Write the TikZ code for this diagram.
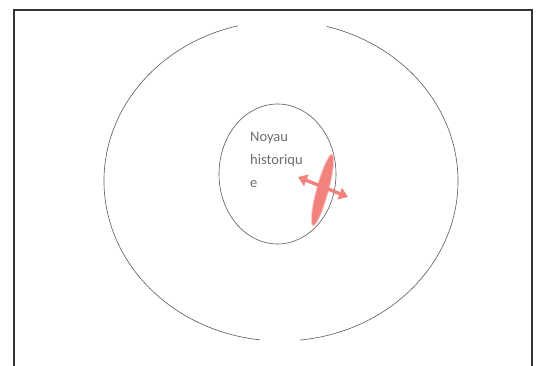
\documentclass[tikz,border=0pt]{standalone}
\usepackage{fontspec}
\setmainfont{Carlito}
\usetikzlibrary{arrows.meta,calc,shapes.geometric}
\definecolor{salmon}{RGB}{242,130,125}
\definecolor{ringgray}{RGB}{90,90,90}
\definecolor{textgray}{RGB}{110,110,110}
\begin{document}
\begin{tikzpicture}[x=1pt,y=1pt,
  ring/.style={draw=ringgray,line width=0.6pt},
  frameline/.style={draw=black!80,line width=1.3pt},
  label/.style={text=textgray,font=\fontsize{14.5}{23}\selectfont,align=left,inner sep=0pt},
  leaf/.style={fill=salmon,draw=salmon!40,line width=0.8pt},
  dblarrow/.style={draw=salmon,line width=3.4pt,{Triangle[length=9pt,width=12pt]}-{Triangle[length=9pt,width=12pt]}}
]
\useasboundingbox (0,0) rectangle (548,366);
\fill[white] (0,0) rectangle (548,366);
\begin{scope}
\clip (0,0) rectangle (548,366);
\draw[frameline] (14,-5) -- (14,356) -- (532,356) -- (532,-5);
\end{scope}
% outer ring with two gaps
\coordinate (oc) at (281,185);
\draw[ring] ($(oc)+(104:177 and 160)$) arc[start angle=104,end angle=263.2,x radius=177,y radius=160];
\draw[ring] ($(oc)+(276.2:177 and 160)$) arc[start angle=276.2,end angle=435,x radius=177,y radius=160];
% inner ring
\node[ring,ellipse,minimum width=117pt,minimum height=140pt,inner sep=0pt] (core) at (277.5,192) {};
\node[label,anchor=base west] (txt) at (250,178) {Noyau\\historiqu\\e};
% red symbol
\node[leaf,ellipse,minimum width=74pt,minimum height=12pt,inner sep=0pt,rotate=75] (leafnode) at (322.5,176) {};
\coordinate (al) at (298,189);
\coordinate (ar) at (348,169);
\draw[dblarrow] (al) -- (ar);
\end{tikzpicture}
\end{document}
